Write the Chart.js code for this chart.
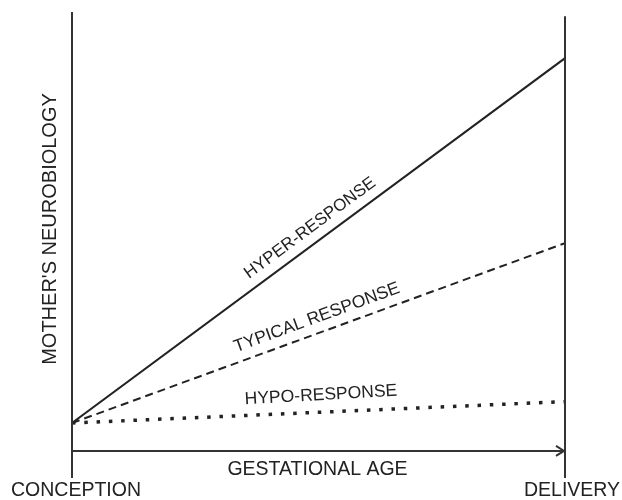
<!DOCTYPE html>
<html>
<head>
<meta charset="UTF-8">
<title>Mother's neurobiology</title>
<script src="https://cdn.jsdelivr.net/npm/chart.js@4.4.1/dist/chart.umd.min.js"></script>
<style>
  html, body { margin: 0; padding: 0; background: #fff; }
  #wrap { width: 622px; height: 500px; }
</style>
</head>
<body>
<div id="wrap"><canvas id="myChart" width="622" height="500"></canvas></div>

<script>
// time from conception (0) to delivery (1)
const stages = [0, 1];
const stageLabels = ['CONCEPTION', 'DELIVERY'];
// mother's neurobiology, arbitrary units (0-100)
const hyper = [11.8, 90.1];
const typical = [11.8, 50.4];
const hypo = [11.8, 16.4];
const seriesNames = ['HYPER-RESPONSE', 'TYPICAL RESPONSE', 'HYPO-RESPONSE'];
const xTitle = 'GESTATIONAL AGE';
const yTitle = "MOTHER'S NEUROBIOLOGY";

const ink = '#222';
const font = '"Liberation Sans", Arial, sans-serif';

function pts(vals) {
  return stages.map(function(x, i) { return { x: x, y: vals[i] }; });
}

// axes, arrow and all text drawn on top of the plot
const frame = {
  id: 'frame',
  afterDatasetsDraw(chart) {
    const ctx = chart.ctx;
    const xs = chart.scales.x, ys = chart.scales.y;
    const x0 = xs.getPixelForValue(0), x1 = xs.getPixelForValue(1);
    ctx.save();
    ctx.strokeStyle = '#333';
    ctx.lineWidth = 2;
    ctx.lineCap = 'butt';
    // conception / delivery verticals
    ctx.beginPath();
    ctx.moveTo(x0, ys.getPixelForValue(100));
    ctx.lineTo(x0, ys.getPixelForValue(0));
    ctx.moveTo(x1, ys.getPixelForValue(99.1));
    ctx.lineTo(x1, ys.getPixelForValue(0));
    ctx.stroke();
    // time arrow
    const ay = ys.getPixelForValue(5.8);
    ctx.beginPath();
    ctx.moveTo(x0, ay);
    ctx.lineTo(x1 - 1, ay);
    ctx.stroke();
    ctx.beginPath();
    ctx.moveTo(x1 - 9, ay - 5);
    ctx.lineTo(x1 - 1, ay);
    ctx.lineTo(x1 - 9, ay + 5);
    ctx.stroke();

    ctx.fillStyle = ink;
    ctx.textAlign = 'center';
    ctx.textBaseline = 'middle';
    ctx.font = '19.5px ' + font;
    ctx.fillText(xTitle, (x0 + x1) / 2 - 1, 470);
    ctx.fillText(stageLabels[0], x0 + 4, 491);
    ctx.fillText(stageLabels[1], x1 + 7, 491);

    ctx.save();
    ctx.translate(50, 229);
    ctx.rotate(-Math.PI / 2);
    ctx.font = '20px ' + font;
    ctx.fillText(yTitle, 0, 0);
    ctx.restore();

    // series labels along their lines
    const place = [[319, 15, 17], [322, 15, 17.5], [322, 17, 17.5]];
    chart.data.datasets.forEach(function(ds, i) {
      const meta = chart.getDatasetMeta(i);
      const p0 = meta.data[0], p1 = meta.data[1];
      let ang = Math.atan2(p1.y - p0.y, p1.x - p0.x);
      const px = place[i][0];
      const py = p0.y + (px - p0.x) * Math.tan(ang);
      if (i === 2) ang -= 0.013;
      ctx.save();
      ctx.translate(px, py);
      ctx.rotate(ang);
      ctx.font = place[i][2] + 'px ' + font;
      ctx.fillText(seriesNames[i], 0, -place[i][1]);
      ctx.restore();
    });
    ctx.restore();
  }
};

new Chart('myChart', {
  type: 'line',
  data: {
    datasets: [{
      data: pts(hyper),
      borderColor: ink,
      borderWidth: 2,
      pointRadius: 0
    }, {
      data: pts(typical),
      borderColor: ink,
      borderWidth: 2,
      borderDash: [8, 5],
      pointRadius: 0
    }, {
      data: pts(hypo),
      borderColor: ink,
      borderWidth: 3.5,
      borderDash: [3.5, 8.8],
      pointRadius: 0
    }]
  },
  options: {
    responsive: false,
    animation: false,
    layout: { padding: { left: 72, right: 57, top: 12, bottom: 22 } },
    plugins: { legend: { display: false }, tooltip: { enabled: false } },
    scales: {
      x: { type: 'linear', min: 0, max: 1, display: false },
      y: { min: 0, max: 100, display: false }
    }
  },
  plugins: [frame]
});
</script>
</body>
</html>
